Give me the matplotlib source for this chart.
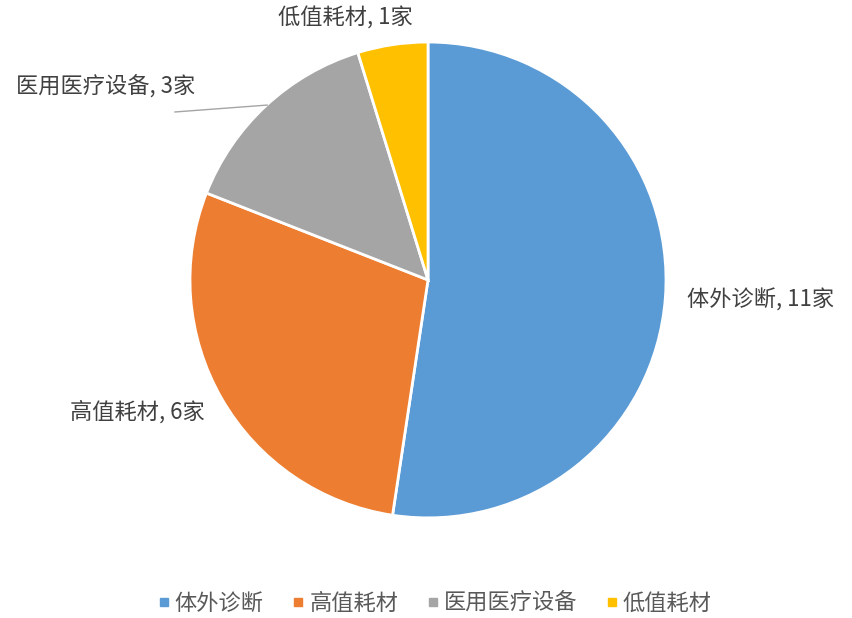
import matplotlib
matplotlib.use('Agg')
import matplotlib.pyplot as plt
from matplotlib.lines import Line2D

plt.rcParams['font.family'] = ['Noto Sans CJK SC', 'DejaVu Sans']

# data
categories = ['体外诊断', '高值耗材', '医用医疗设备', '低值耗材']
counts = [11, 6, 3, 1]
colors = ['#5B9BD5', '#ED7D31', '#A5A5A5', '#FFC000']

fig = plt.figure(figsize=(8.52, 6.18), dpi=100)
ax = fig.add_axes([0.223, 0.162, 0.5587, 0.770])

ax.pie(counts, colors=colors, startangle=90, counterclock=False,
       wedgeprops=dict(edgecolor='white', linewidth=2), radius=1.0)
ax.set_xlim(-1, 1)
ax.set_ylim(-1, 1)
ax.set_aspect('auto')
ax.axis('off')

txt_color = '#404040'
fs = 16
# data labels
ax.text(1.09, -0.084, '%s, %d家' % (categories[0], counts[0]), ha='left', va='center',
        fontsize=fs, color=txt_color, clip_on=False)
ax.text(-0.937, -0.555, '%s, %d家' % (categories[1], counts[1]), ha='right', va='center',
        fontsize=fs, color=txt_color, clip_on=False)
ax.text(-0.979, 0.811, '%s, %d家' % (categories[2], counts[2]), ha='right', va='center',
        fontsize=fs, color=txt_color, clip_on=False)
ax.text(-0.349, 1.10, '%s, %d家' % (categories[3], counts[3]), ha='center', va='center',
        fontsize=fs, color=txt_color, clip_on=False)
# leader line for the grey slice
ax.plot([-1.063, -0.676], [0.706, 0.735], color='#A5A5A5', lw=1, clip_on=False)

handles = [Line2D([], [], marker='s', linestyle='none', markersize=6,
                  markerfacecolor=c, markeredgecolor=c) for c in colors]
fig.legend(handles, categories, loc='center', bbox_to_anchor=(0.51, 0.024),
           ncol=4, frameon=False, fontsize=16, labelcolor='#595959',
           handletextpad=0.2, columnspacing=1.25, handlelength=0.6)

fig.savefig('out.png', dpi=100, facecolor='white')
